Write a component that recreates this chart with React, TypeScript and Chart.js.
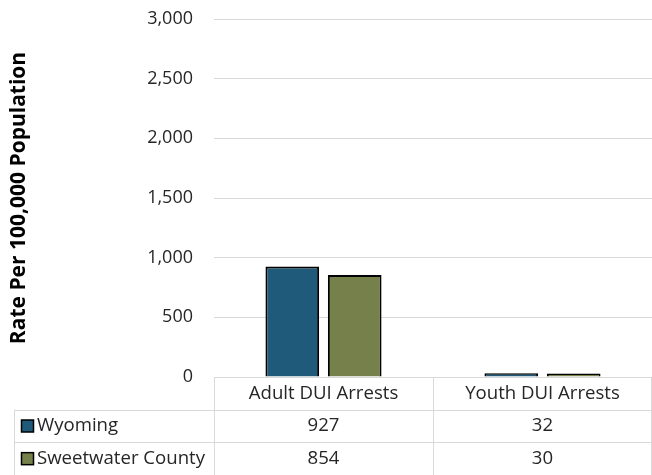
import React, { useEffect, useRef } from "react";
import { Chart, registerables } from "chart.js";

Chart.register(...registerables);

const categories = ["Adult DUI Arrests", "Youth DUI Arrests"];
const seriesNames = ["Wyoming", "Sweetwater County"];
const wyoming = [927, 32];
const sweetwater = [854, 30];
const colors = ["#1f5a7b", "#76804b"];

const FONT = "'Open Sans', 'DejaVu Sans', sans-serif";
const TEXT = "#262626";
const GRID = "#d9d9d9";

const tablePlugin = {
  id: "dataTable",
  afterDraw(chart: any) {
    const ctx = chart.ctx;
    const area = chart.chartArea;
    const W = chart.width;
    const H = chart.height;
    const top = area.bottom;
    const rowH = (H - top) / 3;
    const tableLeft = 14;
    const n = categories.length;
    const colW = (area.right - area.left) / n;
    ctx.save();
    ctx.strokeStyle = GRID;
    ctx.lineWidth = 1;
    const line = (x1: number, y1: number, x2: number, y2: number) => {
      ctx.beginPath();
      ctx.moveTo(x1, y1);
      ctx.lineTo(x2, y2);
      ctx.stroke();
    };
    line(area.left, Math.round(top) + 0.5, W, Math.round(top) + 0.5);
    for (let r = 1; r <= 2; r++) {
      const y = Math.round(top + rowH * r) + 0.5;
      line(tableLeft, y, W, y);
    }
    line(Math.round(area.left) + 0.5, top, Math.round(area.left) + 0.5, H);
    line(tableLeft + 0.5, top + rowH, tableLeft + 0.5, H);
    for (let c = 1; c < n; c++) {
      const xx = Math.round(area.left + colW * c) + 0.5;
      line(xx, top, xx, H);
    }
    line(W - 0.5, top, W - 0.5, H);

    ctx.fillStyle = TEXT;
    ctx.font = `18.6px ${FONT}`;
    ctx.textAlign = "center";
    ctx.textBaseline = "middle";
    for (let c = 0; c < n; c++) {
      const cx = area.left + colW * (c + 0.5);
      ctx.fillText(categories[c], cx, top + rowH * 0.5);
      ctx.fillText(String(wyoming[c]), cx, top + rowH * 1.5);
      ctx.fillText(String(sweetwater[c]), cx, top + rowH * 2.5);
    }
    for (let r = 0; r < 2; r++) {
      const cy = top + rowH * (r + 1.5);
      ctx.fillStyle = colors[r];
      ctx.fillRect(21.5, cy - 6, 12, 12);
      ctx.strokeStyle = "#000";
      ctx.lineWidth = 1.5;
      ctx.strokeRect(21.5, cy - 6, 12, 12);
      ctx.fillStyle = TEXT;
      ctx.textAlign = "left";
      ctx.fillText(seriesNames[r], 37, cy);
    }
    ctx.restore();
  },
};

export default function App() {
  const ref = useRef<HTMLCanvasElement>(null);
  useEffect(() => {
    if (!ref.current) return;
    const chart = new Chart(ref.current, {
      type: "bar",
      data: {
        labels: categories,
        datasets: [
          {
            label: seriesNames[0],
            data: wyoming,
            backgroundColor: colors[0],
            borderColor: "#000",
            borderWidth: 2,
            categoryPercentage: 0.57,
            barPercentage: 0.86,
          },
          {
            label: seriesNames[1],
            data: sweetwater,
            backgroundColor: colors[1],
            borderColor: "#000",
            borderWidth: 2,
            categoryPercentage: 0.57,
            barPercentage: 0.86,
          },
        ],
      },
      options: {
        responsive: false,
        animation: false,
        layout: { padding: { top: 19, bottom: 98, left: 0, right: 0 } },
        plugins: { legend: { display: false }, tooltip: { enabled: false } },
        scales: {
          x: { display: false },
          y: {
            min: 0,
            max: 3000,
            ticks: {
              stepSize: 500,
              padding: 0,
              color: TEXT,
              font: { family: FONT, size: 18 },
              callback: (v: any) => Number(v).toLocaleString("en-US"),
            },
            grid: {
              color: GRID,
              lineWidth: 1,
              drawTicks: true,
              tickLength: 21,
              tickColor: "rgba(0,0,0,0)",
            },
            border: { display: false },
            title: {
              display: true,
              text: "Rate Per 100,000 Population",
              color: "#000",
              font: { family: FONT, size: 21, weight: "bold" },
              padding: { top: 6, bottom: 0 },
            },
            afterFit: (scale: any) => {
              scale.width = 214;
            },
          },
        },
      },
      plugins: [tablePlugin],
    });
    return () => chart.destroy();
  }, []);
  return (
    <div style={{ position: "absolute", left: 0, top: 0, width: 652, height: 475 }}>
      <canvas ref={ref} width={652} height={475} />
    </div>
  );
}
